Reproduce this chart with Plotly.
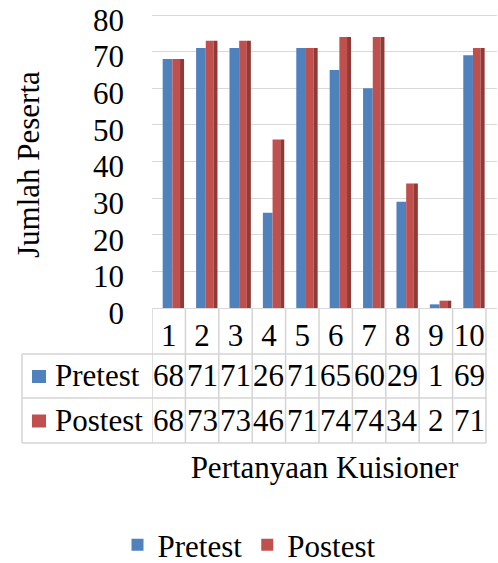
import plotly.graph_objects as go

# ---- data ----
categories = [1, 2, 3, 4, 5, 6, 7, 8, 9, 10]
pretest = [68, 71, 71, 26, 71, 65, 60, 29, 1, 69]
postest = [68, 73, 73, 46, 71, 74, 74, 34, 2, 71]
series_names = ["Pretest", "Postest"]
y_ticks = [0, 10, 20, 30, 40, 50, 60, 70, 80]
y_title = "Jumlah Peserta"
x_title = "Pertanyaan Kuisioner"

# ---- styling ----
FONT = "Liberation Serif, Times New Roman, serif"
FS = 31
BLUE = "#4F81BD"
RED = "#C0504D"
RED_SIDE = "#8F3A37"
GRID = "#D9D9D9"
TABLE_LINE = "#D4D4D4"

W, H = 498, 563
BOTTOM_PX = 308          # pixel of value 0
PX_PER_UNIT = 293 / 80   # vertical scale
T = 10
L, R = 152, 1
B = H - BOTTOM_PX
PW, PH = W - L - R, BOTTOM_PX - T
Y_TOP = PH / PX_PER_UNIT


def px(x):  # pixel x -> paper x
    return (x - L) / PW


def py(y):  # pixel y -> paper y
    return (BOTTOM_PX - y) / PH


fig = go.Figure()
fig.add_trace(go.Bar(x=categories, y=pretest, name=series_names[0],
                     marker=dict(color=BLUE, line=dict(width=0)),
                     offset=-0.18, width=0.29))
fig.add_trace(go.Bar(x=categories, y=postest, name=series_names[1],
                     marker=dict(color=RED, line=dict(width=0)),
                     offset=0.11, width=0.23))
fig.add_trace(go.Bar(x=categories, y=postest, name=series_names[1],
                     marker=dict(color=RED_SIDE, line=dict(width=0)),
                     offset=0.34, width=0.12, showlegend=False, hoverinfo="skip"))

shapes = []
annotations = []

# table horizontal lines
row_lines = [354, 398, 443]
for yp in row_lines:
    shapes.append(dict(type="line", xref="paper", yref="paper",
                       x0=px(22), x1=px(486), y0=py(yp), y1=py(yp),
                       line=dict(color=TABLE_LINE, width=1.5)))
# left border of header column
shapes.append(dict(type="line", xref="paper", yref="paper",
                   x0=px(22), x1=px(22), y0=py(354), y1=py(443),
                   line=dict(color=TABLE_LINE, width=1.5)))
# vertical column lines at category boundaries
bounds = [c - 0.5 for c in categories] + [categories[-1] + 0.5]
for bx in bounds:
    shapes.append(dict(type="line", xref="x", yref="paper",
                       x0=bx, x1=bx, y0=py(309), y1=py(443),
                       line=dict(color=TABLE_LINE, width=1.5)))

# table values
row_centers = [376, 420.5]
for vals, yc in zip([pretest, postest], row_centers):
    for c, v in zip(categories, vals):
        annotations.append(dict(x=c, y=py(yc), xref="x", yref="paper",
                                text=str(v), showarrow=False,
                                xanchor="center", yanchor="middle",
                                font=dict(family=FONT, size=FS, color="black")))

# row headers with colour keys
for name, col, yc in zip(series_names, [BLUE, RED], row_centers):
    annotations.append(dict(x=px(53), y=py(yc), xref="paper", yref="paper",
                            text=name, showarrow=False,
                            xanchor="left", yanchor="middle",
                            font=dict(family=FONT, size=FS, color="black")))
    shapes.append(dict(type="rect", xref="paper", yref="paper",
                       x0=px(32), x1=px(46), y0=py(yc + 7), y1=py(yc - 6),
                       fillcolor=col, line=dict(width=0)))

# y axis title
annotations.append(dict(x=px(28), y=py(165), xref="paper", yref="paper",
                        text=y_title, textangle=-90, showarrow=False,
                        xanchor="center", yanchor="middle",
                        font=dict(family=FONT, size=FS, color="black")))

fig.update_layout(
    width=W, height=H,
    margin=dict(l=L, r=R, t=T, b=B, autoexpand=False),
    paper_bgcolor="white", plot_bgcolor="white",
    font=dict(family=FONT, size=FS, color="black"),
    barmode="overlay",
    showlegend=True,
    legend=dict(orientation="h", xref="container", yref="container",
                x=0.5, xanchor="center", y=1 - 518 / H, yanchor="top",
                font=dict(family=FONT, size=FS, color="black"),
                bgcolor="rgba(0,0,0,0)"),
    xaxis=dict(range=[0.5, 10.83], tickmode="array", tickvals=categories,
               ticktext=[str(c) for c in categories],
               showgrid=False, zeroline=False, showline=False, ticks="",
               tickfont=dict(family=FONT, size=FS, color="black"),
               ticklabelstandoff=6,
               title=dict(text=x_title, standoff=104,
                          font=dict(family=FONT, size=FS, color="black"))),
    yaxis=dict(range=[0, Y_TOP], tickmode="array", tickvals=y_ticks,
               showgrid=True, gridcolor=GRID, gridwidth=1.3,
               zeroline=True, zerolinecolor=GRID, zerolinewidth=1.3,
               showline=False, ticks="",
               tickfont=dict(family=FONT, size=FS, color="black"),
               ticklabelstandoff=27, ticklabelshift=5,
               ticklabeloverflow="allow"),
    shapes=shapes,
    annotations=annotations,
)

fig.write_html("out.html", config={"displayModeBar": False},
               post_script="document.body.style.margin='0';document.body.style.overflow='hidden';")
